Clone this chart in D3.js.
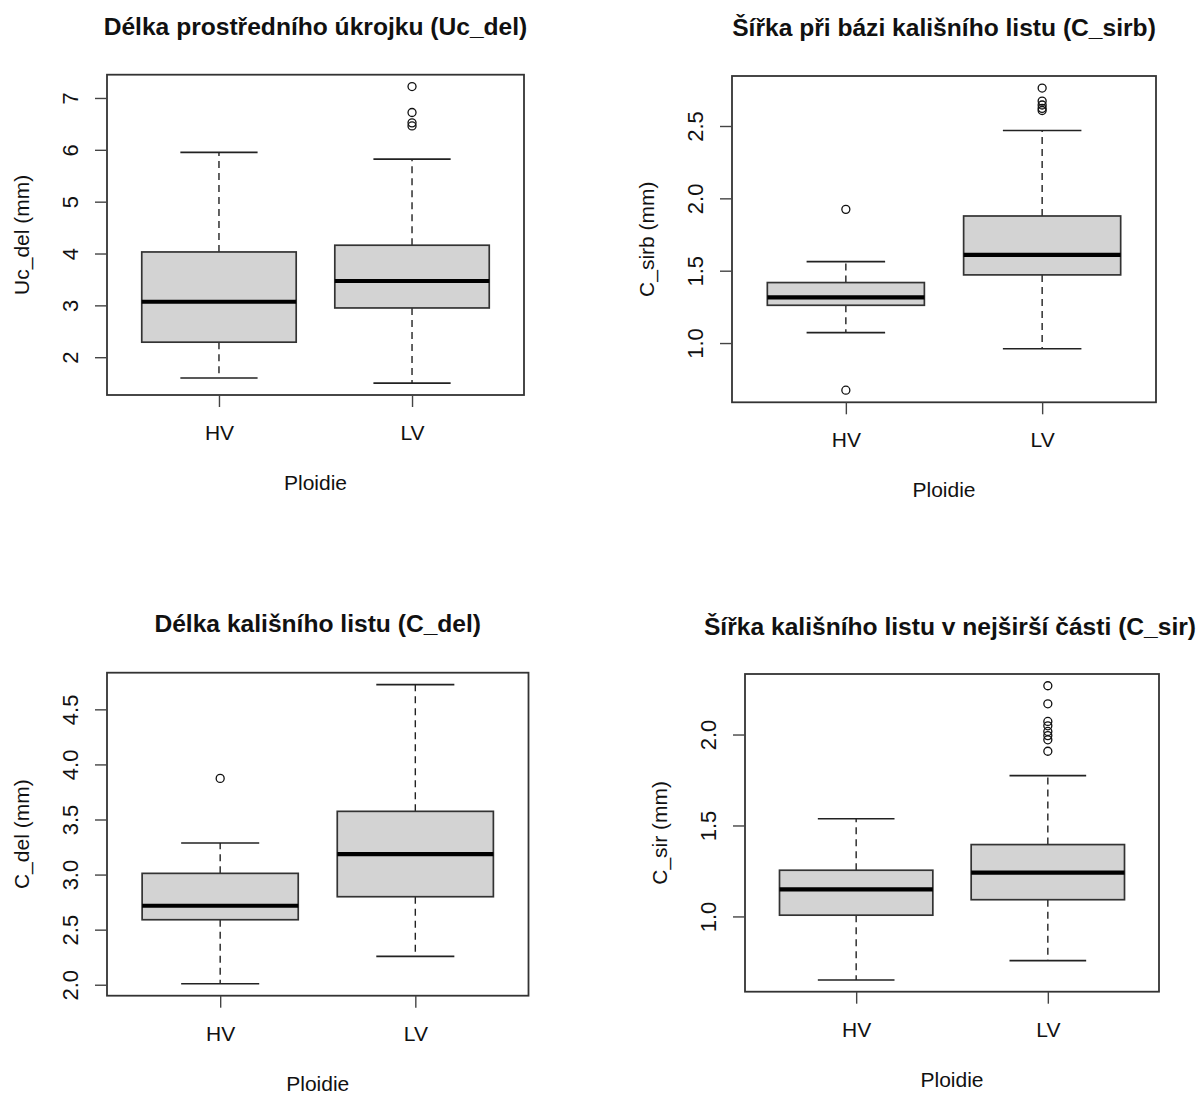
<!DOCTYPE html>
<html>
<head>
<meta charset="utf-8">
<script src="https://cdn.jsdelivr.net/npm/d3@7"></script>
<style>
  body { margin: 0; background: #fff; }
  svg text { font-family: "Liberation Sans", Arial, sans-serif; fill: #111; }
</style>
</head>
<body>
<svg id="chart" width="1201" height="1095"></svg>
<script>
// ---- data ----
const categories = ["HV", "LV"];
const xAxisTitle = "Ploidie";

// [lower whisker, Q1, median, Q3, upper whisker]
const ucDelStats = [[1.60, 2.29, 3.07, 4.03, 5.95], [1.50, 2.95, 3.47, 4.16, 5.82]];
const ucDelOutliers = [[], [7.22, 6.72, 6.52, 6.46]];
const ucDelTicks = [2, 3, 4, 5, 6, 7];

const cSirbStats = [[1.072, 1.261, 1.316, 1.418, 1.563], [0.961, 1.471, 1.610, 1.878, 2.469]];
const cSirbOutliers = [[1.924, 0.674], [2.762, 2.672, 2.645, 2.622, 2.607]];
const cSirbTicks = [1.0, 1.5, 2.0, 2.5];

const cDelStats = [[2.009, 2.590, 2.717, 3.011, 3.286], [2.257, 2.799, 3.186, 3.574, 4.724]];
const cDelOutliers = [[3.873], []];
const cDelTicks = [2.0, 2.5, 3.0, 3.5, 4.0, 4.5];

const cSirStats = [[0.651, 1.007, 1.149, 1.254, 1.537], [0.757, 1.092, 1.241, 1.395, 1.774]];
const cSirOutliers = [[], [2.268, 2.169, 2.072, 2.048, 2.017, 1.994, 1.971, 1.908]];
const cSirTicks = [1.0, 1.5, 2.0];

const titles = [
  "Délka prostředního úkrojku (Uc_del)",
  "Šířka při bázi kališního listu (C_sirb)",
  "Délka kališního listu (C_del)",
  "Šířka kališního listu v nejširší části (C_sir)"
];
const yTitles = ["Uc_del (mm)", "C_sirb (mm)", "C_del (mm)", "C_sir (mm)"];

// ---- layout (positions only) ----
const panels = [
  { l: 107, r: 524, t: 74.7, b: 395, stats: ucDelStats, out: ucDelOutliers, ticks: ucDelTicks, fmt: d3.format("d"), titleDy: 40, titleDx: 0 },
  { l: 732, r: 1156, t: 76, b: 402.3, stats: cSirbStats, out: cSirbOutliers, ticks: cSirbTicks, fmt: d3.format(".1f"), titleDy: 40, titleDx: 0 },
  { l: 107, r: 528.5, t: 672.7, b: 995.7, stats: cDelStats, out: cDelOutliers, ticks: cDelTicks, fmt: d3.format(".1f"), titleDy: 41, titleDx: 0 },
  { l: 745, r: 1159, t: 674, b: 991.7, stats: cSirStats, out: cSirOutliers, ticks: cSirTicks, fmt: d3.format(".1f"), titleDy: 39, titleDx: -2 }
];

const svg = d3.select("#chart");
svg.append("rect").attr("width", 1201).attr("height", 1095).attr("fill", "#fff");

panels.forEach((p, i) => {
  const g = svg.append("g");
  // R-style axis limits: data range extended by 4%
  const allVals = p.stats.flat().concat(p.out.flat());
  const [mn, mx] = d3.extent(allVals);
  const pad = (mx - mn) * 0.04;
  const y = d3.scaleLinear().domain([mn - pad, mx + pad]).range([p.b, p.t]);
  const x = d3.scaleLinear().domain([0.42, 2.58]).range([p.l, p.r]);
  const boxHalf = 0.4, capHalf = 0.2;

  p.stats.forEach((s, j) => {
    const cx = j + 1;
    const [lo, q1, med, q3, hi] = s;
    g.append("line").attr("x1", x(cx)).attr("x2", x(cx)).attr("y1", y(q3)).attr("y2", y(hi))
      .attr("stroke", "#222").attr("stroke-width", 1.4).attr("stroke-dasharray", "7,5");
    g.append("line").attr("x1", x(cx)).attr("x2", x(cx)).attr("y1", y(q1)).attr("y2", y(lo))
      .attr("stroke", "#222").attr("stroke-width", 1.4).attr("stroke-dasharray", "7,5");
    [lo, hi].forEach(v => {
      g.append("line").attr("x1", x(cx - capHalf)).attr("x2", x(cx + capHalf))
        .attr("y1", y(v)).attr("y2", y(v)).attr("stroke", "#222").attr("stroke-width", 1.6);
    });
    g.append("rect").attr("x", x(cx - boxHalf)).attr("y", y(q3))
      .attr("width", x(cx + boxHalf) - x(cx - boxHalf)).attr("height", y(q1) - y(q3))
      .attr("fill", "#d3d3d3").attr("stroke", "#333").attr("stroke-width", 1.7);
    g.append("line").attr("x1", x(cx - boxHalf)).attr("x2", x(cx + boxHalf))
      .attr("y1", y(med)).attr("y2", y(med)).attr("stroke", "#000").attr("stroke-width", 4.2);
    p.out[j].forEach(v => {
      g.append("circle").attr("cx", x(cx)).attr("cy", y(v)).attr("r", 4)
        .attr("fill", "none").attr("stroke", "#111").attr("stroke-width", 1.3);
    });
  });

  g.append("rect").attr("x", p.l).attr("y", p.t).attr("width", p.r - p.l).attr("height", p.b - p.t)
    .attr("fill", "none").attr("stroke", "#333").attr("stroke-width", 1.8);

  const yAxis = d3.axisLeft(y).tickValues(p.ticks).tickFormat(p.fmt).tickSize(12).tickPadding(0);
  const ya = g.append("g").attr("transform", `translate(${p.l},0)`).call(yAxis);
  ya.select(".domain").remove();
  ya.selectAll(".tick line").attr("stroke", "#444").attr("stroke-width", 1.4);
  ya.selectAll(".tick text")
    .attr("x", null).attr("dy", null)
    .attr("transform", "translate(-29,0) rotate(-90)")
    .attr("text-anchor", "middle")
    .attr("font-size", 22)
    .attr("fill", "#111");

  const xAxis = d3.axisBottom(x).tickValues([1, 2]).tickFormat(d => categories[d - 1]).tickSize(12).tickPadding(0);
  const xa = g.append("g").attr("transform", `translate(0,${p.b})`).call(xAxis);
  xa.select(".domain").remove();
  xa.selectAll(".tick line").attr("stroke", "#444").attr("stroke-width", 1.4);
  xa.selectAll(".tick text").attr("y", 45).attr("dy", null).attr("font-size", 21).attr("fill", "#111");

  const cxp = (p.l + p.r) / 2, cyp = (p.t + p.b) / 2;
  g.append("text").attr("x", cxp).attr("y", p.b + 95).attr("text-anchor", "middle")
    .attr("font-size", 21).text(xAxisTitle);
  g.append("text").attr("transform", `translate(${p.l - 78},${cyp}) rotate(-90)`)
    .attr("text-anchor", "middle").attr("font-size", 21).text(yTitles[i]);
  g.append("text").attr("x", cxp + p.titleDx).attr("y", p.t - p.titleDy).attr("text-anchor", "middle")
    .attr("font-size", 24.6).attr("font-weight", "bold").text(titles[i]);
});
</script>
</body>
</html>
